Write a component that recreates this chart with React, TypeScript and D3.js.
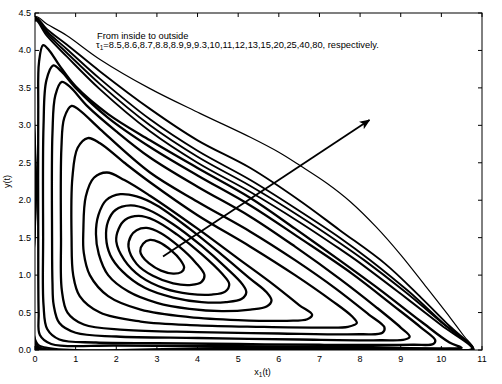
import React from "react"
import * as d3 from "d3"

const W = 502
const H = 384
const margin = { top: 13, right: 20, bottom: 34, left: 35 }

const xTicks = [0, 1, 2, 3, 4, 5, 6, 7, 8, 9, 10, 11]
const yTicks = [0, 0.5, 1, 1.5, 2, 2.5, 3, 3.5, 4, 4.5]
const tauValues = ["8.5", "8.6", "8.7", "8.8", "8.9", "9", "9.3", "10", "11", "12", "13", "15", "20", "25", "40", "80"]

// orbits, from inside to outside
const orbit01 = [[2.59, 1.32], [2.66, 1.42], [2.83, 1.47], [3.05, 1.44], [3.35, 1.33], [3.58, 1.2], [3.67, 1.1], [3.6, 1.04], [3.4, 1.02], [3.1, 1.06], [2.8, 1.16], [2.64, 1.25]]
const orbit02 = [[2.3, 1.38], [2.36, 1.52], [2.5, 1.6], [2.75, 1.63], [3.1, 1.56], [3.55, 1.38], [3.95, 1.17], [4.17, 1.0], [4.1, 0.91], [3.85, 0.87], [3.4, 0.89], [2.9, 0.99], [2.5, 1.15]]
const orbit03 = [[2.0, 1.45], [2.06, 1.62], [2.22, 1.74], [2.55, 1.79], [2.95, 1.73], [3.5, 1.54], [4.1, 1.28], [4.6, 1.02], [4.78, 0.88], [4.68, 0.78], [4.35, 0.74], [3.8, 0.75], [3.2, 0.82], [2.6, 0.98], [2.2, 1.2]]
const orbit04 = [[1.75, 1.5], [1.8, 1.72], [1.98, 1.87], [2.35, 1.93], [2.8, 1.87], [3.4, 1.68], [4.1, 1.39], [4.7, 1.1], [5.1, 0.88], [5.2, 0.77], [5.08, 0.68], [4.7, 0.64], [4.1, 0.64], [3.4, 0.7], [2.7, 0.83], [2.15, 1.05], [1.85, 1.27]]
const orbit05 = [[1.5, 1.55], [1.56, 1.8], [1.75, 2.0], [2.1, 2.08], [2.5, 2.05], [3.0, 1.93], [3.8, 1.62], [4.6, 1.27], [5.3, 0.95], [5.7, 0.77], [5.82, 0.66], [5.7, 0.58], [5.3, 0.54], [4.6, 0.52], [3.8, 0.55], [3.0, 0.63], [2.3, 0.78], [1.8, 1.0], [1.57, 1.28]]
const orbit06 = [[1.19, 1.6], [1.25, 2.05], [1.45, 2.3], [1.77, 2.37], [2.2, 2.27], [2.83, 2.06], [4.0, 1.62], [5.0, 1.22], [5.9, 0.86], [6.5, 0.6], [6.82, 0.47], [6.7, 0.41], [6.2, 0.39], [5.0, 0.4], [3.8, 0.44], [2.6, 0.54], [1.8, 0.72], [1.35, 1.0], [1.2, 1.3]]
const orbit07 = [[0.9, 1.5], [0.92, 2.3], [1.05, 2.7], [1.3, 2.83], [1.6, 2.76], [2.2, 2.5], [2.83, 2.24], [4.0, 1.8], [5.3, 1.38], [6.4, 1.0], [7.3, 0.66], [7.8, 0.45], [7.92, 0.36], [7.7, 0.31], [7.0, 0.3], [5.5, 0.31], [4.0, 0.33], [2.6, 0.38], [1.6, 0.5], [1.1, 0.72], [0.94, 1.0]]
const orbit08 = [[0.64, 1.5], [0.65, 2.7], [0.72, 3.1], [0.9, 3.26], [1.1, 3.2], [1.6, 2.95], [2.83, 2.37], [4.0, 1.98], [5.3, 1.58], [6.4, 1.2], [7.4, 0.82], [8.2, 0.48], [8.6, 0.3], [8.55, 0.23], [8.0, 0.21], [6.0, 0.22], [4.0, 0.24], [2.2, 0.27], [1.2, 0.34], [0.8, 0.5], [0.66, 0.8]]
const orbit09 = [[0.42, 1.5], [0.43, 2.9], [0.5, 3.4], [0.66, 3.58], [0.85, 3.52], [1.3, 3.25], [2.0, 2.92], [2.83, 2.57], [4.0, 2.18], [5.3, 1.78], [6.4, 1.38], [7.5, 0.95], [8.4, 0.57], [9.0, 0.3], [9.22, 0.18], [9.1, 0.14], [8.5, 0.13], [6.5, 0.14], [4.0, 0.16], [2.0, 0.18], [1.0, 0.23], [0.6, 0.36], [0.46, 0.6], [0.43, 0.9]]
const orbit10 = [[0.2, 1.5], [0.21, 3.0], [0.28, 3.6], [0.45, 3.8], [0.65, 3.72], [1.0, 3.5], [1.8, 3.1], [2.83, 2.71], [4.0, 2.33], [5.3, 1.93], [6.5, 1.5], [7.8, 1.02], [8.8, 0.6], [9.5, 0.3], [9.85, 0.13], [9.8, 0.08], [9.3, 0.07], [7.0, 0.07], [5.0, 0.08], [3.0, 0.09], [1.5, 0.1], [0.6, 0.14], [0.3, 0.28], [0.21, 0.6]]
const orbit11 = [[0.08, 1.5], [0.08, 3.2], [0.1, 3.85], [0.2, 4.07], [0.35, 4.0], [0.6, 3.8], [1.0, 3.52], [1.8, 3.15], [2.83, 2.8], [4.0, 2.43], [5.3, 2.03], [6.4, 1.62], [7.44, 1.22], [8.5, 0.8], [9.5, 0.38], [10.2, 0.1], [10.5, 0.03], [10.2, 0.02], [8.0, 0.04], [5.0, 0.05], [2.0, 0.06], [0.4, 0.08], [0.12, 0.2], [0.09, 0.5]]
const orbit12 = [[0.03, 2.2], [0.01, 4.4], [0.3, 4.19], [0.78, 3.92], [1.6, 3.48], [2.83, 2.92], [4.0, 2.5], [5.3, 2.11], [6.5, 1.71], [7.5, 1.35], [7.9, 1.2], [9.0, 0.75], [10.0, 0.33], [10.75, 0.02], [10.0, 0.02], [5.0, 0.03], [0.3, 0.03], [0.04, 0.1]]
const orbit13 = [[0.02, 2.2], [0.01, 4.42], [0.3, 4.22], [0.78, 3.97], [1.6, 3.55], [2.83, 3.0], [4.0, 2.58], [5.3, 2.19], [6.5, 1.79], [7.5, 1.43], [8.1, 1.2], [9.1, 0.78], [10.0, 0.37], [10.77, 0.015], [10.0, 0.015], [5.0, 0.02], [0.2, 0.02], [0.03, 0.08]]
const orbit14 = [[0.015, 2.2], [0.01, 4.43], [0.3, 4.25], [0.78, 4.02], [1.6, 3.62], [2.83, 3.08], [4.0, 2.66], [5.3, 2.27], [6.5, 1.86], [7.5, 1.5], [8.25, 1.2], [9.2, 0.78], [10.1, 0.33], [10.78, 0.01], [10.0, 0.01], [5.0, 0.012], [0.15, 0.012], [0.02, 0.05]]
const orbit15 = [[0.01, 2.2], [0.005, 4.44], [0.3, 4.28], [0.78, 4.08], [1.6, 3.72], [2.83, 3.22], [4.0, 2.8], [5.3, 2.43], [6.5, 2.0], [7.5, 1.6], [8.62, 1.15], [9.5, 0.7], [10.2, 0.32], [10.79, 0.005], [10.0, 0.005], [5.0, 0.006], [0.1, 0.006], [0.01, 0.03]]
const orbit16 = [[0.005, 2.2], [0.0, 4.45], [0.3, 4.35], [0.78, 4.2], [1.6, 3.88], [2.83, 3.49], [4.06, 3.16], [5.3, 2.84], [6.0, 2.64], [6.53, 2.46], [7.2, 2.22], [7.76, 1.98], [8.4, 1.64], [9.0, 1.27], [9.6, 0.86], [10.22, 0.43], [10.55, 0.19], [10.8, 0.0], [10.0, 0.0], [5.0, 0.0], [0.1, 0.0], [0.005, 0.02]]

const orbits = [orbit01, orbit02, orbit03, orbit04, orbit05, orbit06, orbit07, orbit08, orbit09, orbit10, orbit11, orbit12, orbit13, orbit14, orbit15, orbit16]

const arrowFrom = [3.15, 1.25]
const arrowTo = [8.23, 3.07]

const App = () => {
  const innerW = W - margin.left - margin.right
  const innerH = H - margin.top - margin.bottom

  const x = d3.scaleLinear().domain([0, 11]).range([0, innerW])
  const y = d3.scaleLinear().domain([0, 4.5]).range([innerH, 0])

  const line = d3
    .line<number[]>()
    .x((d) => x(d[0]))
    .y((d) => y(d[1]))
    .curve(d3.curveCatmullRomClosed.alpha(0.5))

  const font = "Liberation Sans, Arial, sans-serif"
  const tickLen = 4

  return (
    <svg width={W} height={H} style={{ position: "absolute", left: 0, top: 0, background: "#fff" }}>
      <defs>
        <clipPath id="plot-clip">
          <rect x={0} y={0} width={innerW} height={innerH} />
        </clipPath>
        <marker id="arrow-head" viewBox="0 0 10 10" refX="9" refY="5" markerWidth="6" markerHeight="6" orient="auto">
          <path d="M0,0.8 L10,5 L0,9.2 L2.5,5 Z" fill="#000" />
        </marker>
      </defs>
      <g transform={`translate(${margin.left},${margin.top})`}>
        <g clipPath="url(#plot-clip)">
          {orbits.map((o, i) => (
            <path
              key={i}
              d={line(o) || ""}
              fill="none"
              stroke="#000"
              strokeWidth={i === 15 ? 1.2 : i >= 11 ? 1.9 : 2.3}
              strokeLinejoin="round"
            />
          ))}
        </g>
        <line
          x1={x(arrowFrom[0])}
          y1={y(arrowFrom[1])}
          x2={x(arrowTo[0])}
          y2={y(arrowTo[1])}
          stroke="#000"
          strokeWidth={1.8}
          markerEnd="url(#arrow-head)"
        />

        <rect x={0} y={0} width={innerW} height={innerH} fill="none" stroke="#000" strokeWidth={1} />

        {xTicks.map((t) => (
          <g key={"x" + t}>
            <line x1={x(t)} x2={x(t)} y1={innerH} y2={innerH - tickLen} stroke="#000" />
            <line x1={x(t)} x2={x(t)} y1={0} y2={tickLen} stroke="#000" />
            <text x={x(t)} y={innerH + 12} textAnchor="middle" fontSize={9} fontFamily={font} fill="#000">
              {t}
            </text>
          </g>
        ))}
        {yTicks.map((t) => (
          <g key={"y" + t}>
            <line x1={0} x2={tickLen} y1={y(t)} y2={y(t)} stroke="#000" />
            <line x1={innerW - tickLen} x2={innerW} y1={y(t)} y2={y(t)} stroke="#000" />
            <text x={-4} y={y(t) + 3} textAnchor="end" fontSize={9} fontFamily={font} fill="#000">
              {d3.format(".1f")(t)}
            </text>
          </g>
        ))}

        <text x={x(5.6)} y={innerH + 25} textAnchor="middle" fontSize={9} fontFamily={font} fill="#000">
          x<tspan fontSize={6.5} dy={2}>1</tspan>
          <tspan dy={-2}>(t)</tspan>
        </text>
        <text
          transform={`translate(${-25},${y(2.25)}) rotate(-90)`}
          textAnchor="middle"
          fontSize={9}
          fontFamily={font}
          fill="#000"
        >
          y(t)
        </text>

        <text x={62} y={26} fontSize={9.3} fontFamily={font} fill="#000">
          From inside to outside
        </text>
        <text x={61} y={35} fontSize={9.3} fontFamily={font} fill="#000">
          τ<tspan fontSize={6.5} dy={2}>1</tspan>
          <tspan dy={-2}>={tauValues.join(",")}, respectively.</tspan>
        </text>
      </g>
    </svg>
  )
}

export default App
